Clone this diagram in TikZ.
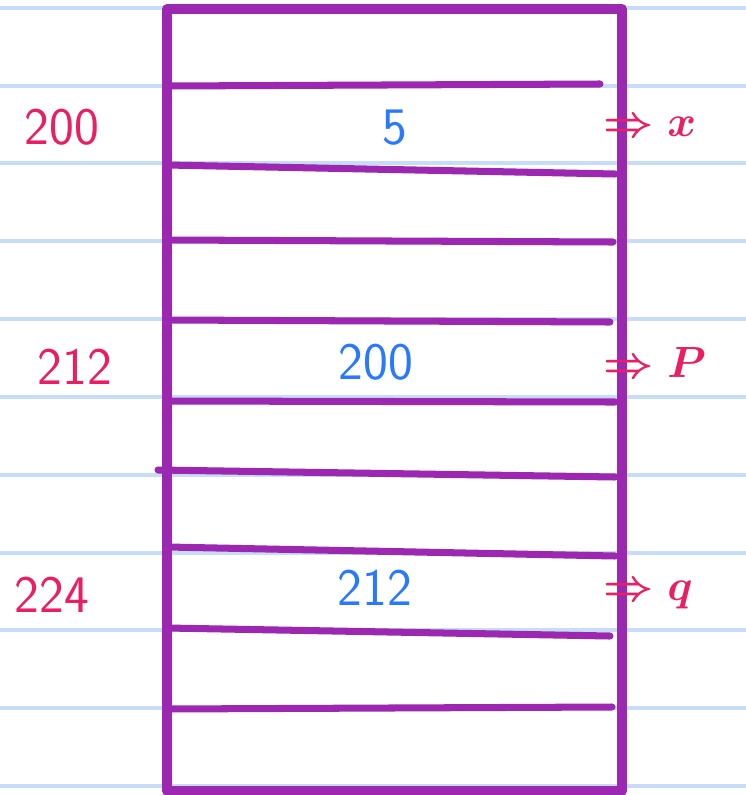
\documentclass[tikz,border=0pt]{standalone}
\usepackage{amsmath,amssymb}
\usepackage{tikz}
\usetikzlibrary{positioning}
\definecolor{inkpurple}{HTML}{9C27B0}
\definecolor{inkred}{HTML}{E91E63}
\definecolor{inkblue}{HTML}{2979FF}
\definecolor{ruled}{HTML}{C6DCF8}
\tikzset{
  rule/.style={ruled,line width=1.8pt},
  frame/.style={inkpurple,line width=5.5pt,line join=round},
  row/.style={inkpurple,line width=4pt,line cap=round},
  addr/.style={inkred,font=\sffamily\fontsize{30}{34}\selectfont},
  val/.style={inkblue,font=\sffamily\fontsize{30}{34}\selectfont},
  ptr/.style={inkred,font=\fontsize{30}{34}\selectfont\boldmath,anchor=west,inner sep=1pt}
}
\begin{document}
\begin{tikzpicture}[x=0.02cm,y=-0.02cm]
\useasboundingbox (0,0) rectangle (746,795);
% notebook ruling
\foreach \y in {8,86,163,241,319,397,475,553,630,708,786}
  \draw[rule] (0,\y) -- (746,\y);
% memory block
\draw[frame] (167,9) rectangle (622,791);
\draw[row] (167,86) -- (600,84);
\draw[row] (167,165) -- (615,174);
\draw[row] (167,240) -- (613,242);
\draw[row] (167,320) -- (610,322);
\draw[row] (167,401) -- (615,402);
\draw[row] (158,470) -- (615,477);
\draw[row] (167,547) -- (615,556);
\draw[row] (167,628) -- (610,636);
\draw[row] (167,709) -- (612,707);
% addresses
\node[addr] (adrx) at (62,127) {200};
\node[addr] (adrp) at (75,367) {212};
\node[addr] (adrq) at (52,595) {224};
% contents
\node[val] (valx) at (395,128) {5};
\node[val] (valp) at (376,362) {200};
\node[val] (valq) at (375,588) {212};
% variable names
\node[ptr] (namex) at (601,127) {$\Rightarrow x$};
\node[ptr] (namep) at (601,362) {$\Rightarrow P$};
\node[ptr] (nameq) at (601,595) {$\Rightarrow q$};
\end{tikzpicture}
\end{document}
